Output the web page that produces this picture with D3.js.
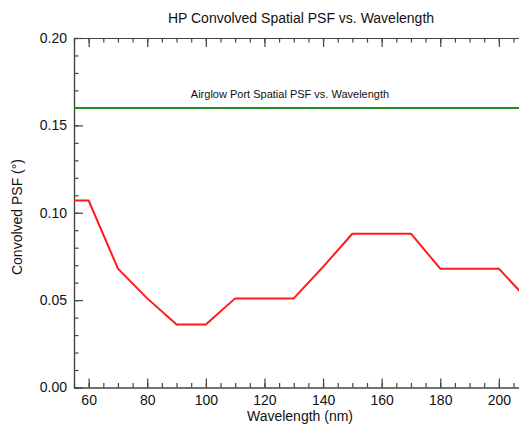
<!DOCTYPE html>
<html>
<head>
<meta charset="utf-8">
<script src="https://cdn.jsdelivr.net/npm/d3@7"></script>
<style>
  body { margin: 0; background: #fff; }
  text { font-family: "Liberation Sans", Arial, sans-serif; fill: #111; }
  .axis path, .axis line { stroke: #444; stroke-width: 1.2; }
</style>
</head>
<body>
<div class="chart"></div>
<script>
// data
let wavelengths = [55, 60, 70, 80, 90, 100, 110, 120, 130, 140, 150, 160, 170, 180, 190, 200, 210];
let convolvedPsf = [0.107, 0.107, 0.068, 0.051, 0.036, 0.036, 0.051, 0.051, 0.051, 0.069, 0.088, 0.088, 0.088, 0.068, 0.068, 0.068, 0.050];
let airglowX = [55, 210];
let airglowPsf = [0.16, 0.16];
let xTicks = [60, 80, 100, 120, 140, 160, 180, 200];
let yTicks = [0.00, 0.05, 0.10, 0.15, 0.20];

let svgWidth = 519;
let svgHeight = 425;

let margin = { top: 38, left: 74, bottom: 38 };
let plotBottom = 387.5;

let svg = d3.select(".chart")
  .append("svg")
  .attr("width", svgWidth)
  .attr("height", svgHeight);

let x = d3.scaleLinear()
  .domain([55, 210])
  .range([margin.left, margin.left + 155 * 2.93]);

let y = d3.scaleLinear()
  .domain([0, 0.20])
  .range([plotBottom, margin.top]);

// minor ticks
let xMinor = d3.range(55, 211, 5);
let yMinor = d3.range(0, 0.2001, 0.01);

svg.append("g")
  .attr("class", "axis")
  .attr("transform", `translate(0, ${plotBottom})`)
  .call(d3.axisBottom(x).tickValues(xMinor).tickSize(-4.5).tickSizeOuter(0).tickFormat(""));

svg.append("g")
  .attr("class", "axis")
  .attr("transform", `translate(0, ${margin.top})`)
  .call(d3.axisBottom(x).tickValues(xMinor).tickSize(4.5).tickSizeOuter(0).tickFormat(""));

svg.append("g")
  .attr("class", "axis")
  .attr("transform", `translate(${margin.left}, 0)`)
  .call(d3.axisLeft(y).tickValues(yMinor).tickSize(-4.5).tickSizeOuter(0).tickFormat(""));

// major ticks
svg.append("g")
  .attr("class", "axis")
  .attr("transform", `translate(0, ${plotBottom})`)
  .call(d3.axisBottom(x).tickValues(xTicks).tickSize(-9).tickSizeOuter(0).tickPadding(8))
  .selectAll("text")
  .attr("font-size", "14px");

svg.append("g")
  .attr("class", "axis")
  .attr("transform", `translate(0, ${margin.top})`)
  .call(d3.axisBottom(x).tickValues(xTicks).tickSize(9).tickSizeOuter(0).tickFormat(""));

svg.append("g")
  .attr("class", "axis")
  .attr("transform", `translate(${margin.left}, 0)`)
  .call(d3.axisLeft(y).tickValues(yTicks).tickSize(-9).tickSizeOuter(0).tickPadding(7).tickFormat(d3.format(".2f")))
  .selectAll("text")
  .attr("font-size", "14px");

svg.selectAll(".axis text").style("fill", "#111");

let line = d3.line()
  .x(d => x(d[0]))
  .y(d => y(d[1]));

svg.append("path")
  .datum(airglowX.map((w, i) => [w, airglowPsf[i]]))
  .attr("fill", "none")
  .attr("stroke", "#1f8c1f")
  .attr("stroke-width", 2)
  .attr("d", line);

svg.append("path")
  .datum(wavelengths.map((w, i) => [w, convolvedPsf[i]]))
  .attr("fill", "none")
  .attr("stroke", "#ff1a1a")
  .attr("stroke-width", 2)
  .attr("stroke-linejoin", "round")
  .attr("d", line);

svg.append("text")
  .attr("x", 290)
  .attr("y", 98)
  .attr("text-anchor", "middle")
  .attr("font-size", "11px")
  .text("Airglow Port Spatial PSF vs. Wavelength");

svg.append("text")
  .attr("x", 301)
  .attr("y", 23)
  .attr("text-anchor", "middle")
  .attr("font-size", "14px")
  .text("HP Convolved Spatial PSF vs. Wavelength");

svg.append("text")
  .attr("x", 300)
  .attr("y", 421)
  .attr("text-anchor", "middle")
  .attr("font-size", "14px")
  .text("Wavelength (nm)");

svg.append("text")
  .attr("transform", "translate(22, 217) rotate(-90)")
  .attr("text-anchor", "middle")
  .attr("font-size", "14px")
  .text("Convolved PSF (°)");
</script>
</body>
</html>
